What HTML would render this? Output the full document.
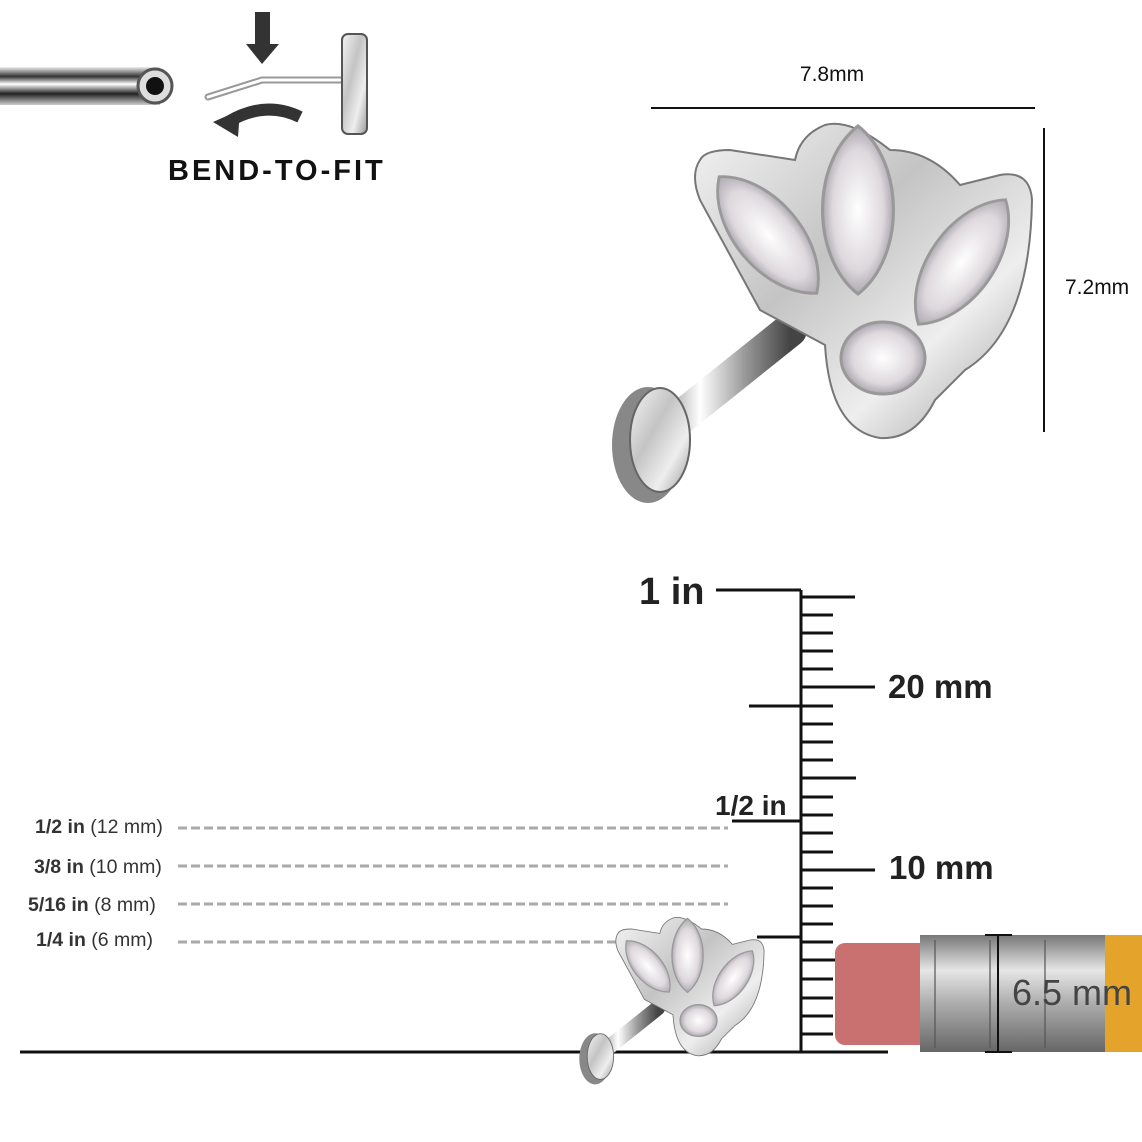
<!DOCTYPE html>
<html><head><meta charset="utf-8"><style>
html,body{margin:0;padding:0;background:#fff}
svg{display:block}
text{font-family:"Liberation Sans",Arial,sans-serif}
</style></head><body>
<svg width="1142" height="1142" viewBox="0 0 1142 1142" xmlns="http://www.w3.org/2000/svg">
<defs>
<linearGradient id="tube" x1="0" y1="0" x2="0" y2="1">
<stop offset="0" stop-color="#eee"/><stop offset=".25" stop-color="#333"/><stop offset=".45" stop-color="#fff"/><stop offset=".7" stop-color="#222"/><stop offset="1" stop-color="#ccc"/></linearGradient>
<linearGradient id="metal" x1="0" y1="0" x2="1" y2="1">
<stop offset="0" stop-color="#f4f4f4"/><stop offset=".4" stop-color="#c4c4c4"/><stop offset=".7" stop-color="#eee"/><stop offset="1" stop-color="#999"/></linearGradient>
<linearGradient id="post" x1="0" y1="0" x2="1" y2="0">
<stop offset="0" stop-color="#555"/><stop offset=".4" stop-color="#fff"/><stop offset=".7" stop-color="#999"/><stop offset="1" stop-color="#444"/></linearGradient>
<radialGradient id="gem" cx=".5" cy=".5" r=".6">
<stop offset="0" stop-color="#fff"/><stop offset=".6" stop-color="#ddd8dc"/><stop offset="1" stop-color="#8a8490"/></radialGradient>
<linearGradient id="ferr" x1="0" y1="0" x2="0" y2="1">
<stop offset="0" stop-color="#777"/><stop offset=".3" stop-color="#e6e6e6"/><stop offset=".6" stop-color="#aaa"/><stop offset="1" stop-color="#666"/></linearGradient>
<path id="marq" d="M0 -80 C45 -45 45 45 0 80 C-45 45 -45 -45 0 -80Z"/>
<g id="jewel">
<path d="M640 450 L790 330" stroke="url(#post)" stroke-width="34" stroke-linecap="round"/>
<ellipse cx="648" cy="445" rx="36" ry="58" fill="#888"/>
<ellipse cx="660" cy="440" rx="30" ry="52" fill="url(#metal)" stroke="#666" stroke-width="2"/>
<path d="M700 160 Q690 175 700 200 L760 310 L825 345 Q830 430 880 438 Q915 440 935 400 L965 370 Q1030 330 1032 200 Q1030 170 1000 175 L960 185 Q930 150 890 150 Q850 118 825 125 Q800 135 795 160 L730 150 Q705 150 700 160Z" fill="url(#metal)" stroke="#777" stroke-width="2"/>
<g stroke="#999" stroke-width="3" fill="url(#gem)">
<use href="#marq" transform="translate(768 235) rotate(-40) scale(0.95)"/>
<use href="#marq" transform="translate(858 210) scale(1.05)"/>
<use href="#marq" transform="translate(962 262) rotate(35) scale(0.95)"/>
<ellipse cx="883" cy="358" rx="42" ry="36"/>
</g>
</g>
</defs>

<rect x="0" y="67" width="160" height="38" fill="url(#tube)"/>
<circle cx="155" cy="86" r="17" fill="#ddd" stroke="#555" stroke-width="3"/>
<circle cx="155" cy="86" r="9" fill="#111"/>
<rect x="255" y="12" width="15" height="36" fill="#333"/>
<polygon points="246,44 279,44 262,64" fill="#333"/>
<path d="M208 97 L262 80 L343 80" stroke="#999" stroke-width="7" fill="none" stroke-linecap="round"/>
<path d="M208 97 L262 80 L343 80" stroke="#fff" stroke-width="3" fill="none" stroke-linecap="round"/>
<rect x="342" y="34" width="25" height="100" rx="6" fill="url(#metal)" stroke="#555" stroke-width="2"/>
<path d="M300 117 Q265 100 228 122" stroke="#333" stroke-width="12" fill="none"/>
<polygon points="213,122 240,110 238,137" fill="#333"/>
<text x="168" y="180" font-size="29" font-weight="bold" letter-spacing="3" fill="#111">BEND-TO-FIT</text>

<text x="832" y="81" font-size="21" text-anchor="middle" fill="#111">7.8mm</text>
<line x1="651" y1="108" x2="1035" y2="108" stroke="#111" stroke-width="2"/>
<line x1="1044" y1="128" x2="1044" y2="432" stroke="#111" stroke-width="2"/>
<text x="1065" y="294" font-size="21" fill="#111">7.2mm</text>

<use href="#jewel"/>

<g stroke="#111" stroke-width="3">
<line x1="801" y1="590" x2="801" y2="1052"/>
<line x1="20" y1="1052" x2="888" y2="1052"/>
<line x1="716" y1="590" x2="801" y2="590"/>
<line x1="749" y1="706" x2="801" y2="706"/>
<line x1="732" y1="821" x2="801" y2="821"/>
<line x1="757" y1="937" x2="801" y2="937"/>
<line x1="801" y1="597" x2="855" y2="597"/>
<line x1="801" y1="687" x2="875" y2="687"/>
<line x1="801" y1="778" x2="856" y2="778"/>
<line x1="801" y1="870" x2="875" y2="870"/>
<line x1="801" y1="960" x2="858" y2="960"/>
<path d="M801 1034h32M801 1016h32M801 998h32M801 979h32M801 942h32M801 924h32M801 906h32M801 888h32M801 852h32M801 833h32M801 815h32M801 797h32M801 760h32M801 742h32M801 724h32M801 706h32M801 669h32M801 651h32M801 633h32M801 615h32"/>
</g>
<text x="639" y="604" font-size="38" font-weight="bold" fill="#222">1 in</text>
<text x="888" y="698" font-size="33" font-weight="bold" fill="#222">20 mm</text>
<text x="889" y="879" font-size="33" font-weight="bold" fill="#222">10 mm</text>
<text x="715" y="815" font-size="28" font-weight="bold" fill="#222">1/2 in</text>

<g stroke="#aaa" stroke-width="3" stroke-dasharray="9 4">
<line x1="178" y1="828" x2="728" y2="828"/>
<line x1="178" y1="866" x2="728" y2="866"/>
<line x1="178" y1="904" x2="728" y2="904"/>
<line x1="178" y1="942" x2="728" y2="942"/>
</g>
<g font-size="19.5" fill="#333">
<text x="35" y="833"><tspan font-weight="bold">1/2 in</tspan> (12 mm)</text>
<text x="34" y="873"><tspan font-weight="bold">3/8 in</tspan> (10 mm)</text>
<text x="28" y="911"><tspan font-weight="bold">5/16 in</tspan>  (8 mm)</text>
<text x="36" y="946"><tspan font-weight="bold">1/4 in</tspan>  (6 mm)</text>
</g>

<use href="#jewel" transform="translate(310 863) scale(0.44)"/>

<rect x="835" y="943" width="100" height="102" rx="10" fill="#c97070"/>
<rect x="920" y="935" width="190" height="117" fill="url(#ferr)"/>
<rect x="1105" y="935" width="37" height="117" fill="#e4a42c"/>
<g stroke="#555" stroke-width="2" opacity=".6">
<line x1="935" y1="940" x2="935" y2="1048"/><line x1="990" y1="940" x2="990" y2="1048"/><line x1="1045" y1="940" x2="1045" y2="1048"/>
</g>
<line x1="998" y1="935" x2="998" y2="1052" stroke="#111" stroke-width="2"/>
<line x1="985" y1="935" x2="1012" y2="935" stroke="#111" stroke-width="2"/>
<line x1="985" y1="1052" x2="1012" y2="1052" stroke="#111" stroke-width="2"/>
<text x="1012" y="1005" font-size="36" fill="#444">6.5 mm</text>
</svg>
</body></html>
